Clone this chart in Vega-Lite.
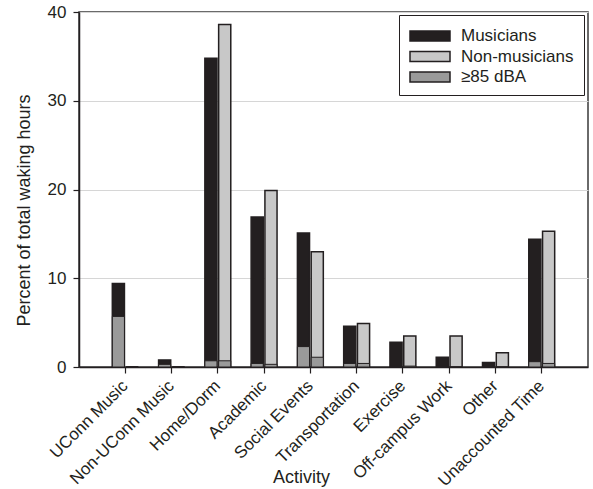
{
  "$schema": "https://vega.github.io/schema/vega-lite/v6.json",
  "width": 509,
  "height": 355,
  "autosize": {"type": "none"},
  "padding": {"left": 79, "top": 12, "right": 5, "bottom": 122},
  "background": "white",
  "config": {
    "font": "Liberation Sans",
    "view": {"stroke": "#3a3a3a", "strokeWidth": 1.5},
    "axis": {
      "labelFont": "Liberation Sans",
      "titleFont": "Liberation Sans",
      "labelColor": "#231f20",
      "titleColor": "#231f20",
      "domainColor": "#231f20",
      "domainWidth": 1.5,
      "tickColor": "#231f20",
      "tickWidth": 1.2,
      "tickSize": 6,
      "titleFontWeight": "normal"
    },
    "legend": {"labelFont": "Liberation Sans"}
  },
  "data": {
    "values": [
      {"activity": "UConn Music", "group": "Musicians", "total": 9.4, "loud": 5.7},
      {"activity": "UConn Music", "group": "Non-musicians", "total": 0, "loud": 0},
      {"activity": "Non-UConn Music", "group": "Musicians", "total": 0.8, "loud": 0.3},
      {"activity": "Non-UConn Music", "group": "Non-musicians", "total": 0, "loud": 0},
      {"activity": "Home/Dorm", "group": "Musicians", "total": 34.8, "loud": 0.7},
      {"activity": "Home/Dorm", "group": "Non-musicians", "total": 38.6, "loud": 0.7},
      {"activity": "Academic", "group": "Musicians", "total": 16.9, "loud": 0.4},
      {"activity": "Academic", "group": "Non-musicians", "total": 19.9, "loud": 0.3},
      {"activity": "Social Events", "group": "Musicians", "total": 15.1, "loud": 2.3},
      {"activity": "Social Events", "group": "Non-musicians", "total": 13.0, "loud": 1.1},
      {"activity": "Transportation", "group": "Musicians", "total": 4.6, "loud": 0.4},
      {"activity": "Transportation", "group": "Non-musicians", "total": 4.9, "loud": 0.4},
      {"activity": "Exercise", "group": "Musicians", "total": 2.8, "loud": 0},
      {"activity": "Exercise", "group": "Non-musicians", "total": 3.5, "loud": 0.1},
      {"activity": "Off-campus Work", "group": "Musicians", "total": 1.1, "loud": 0},
      {"activity": "Off-campus Work", "group": "Non-musicians", "total": 3.5, "loud": 0},
      {"activity": "Other", "group": "Musicians", "total": 0.5, "loud": 0},
      {"activity": "Other", "group": "Non-musicians", "total": 1.6, "loud": 0},
      {"activity": "Unaccounted Time", "group": "Musicians", "total": 14.4, "loud": 0.6},
      {"activity": "Unaccounted Time", "group": "Non-musicians", "total": 15.3, "loud": 0.4}
    ]
  },
  "encoding": {
    "x": {
      "field": "activity",
      "type": "nominal",
      "sort": null,
      "scale": {"paddingInner": 0.44, "paddingOuter": 0.72},
      "axis": {
        "title": "Activity",
        "titleFontSize": 18,
        "titleX": 222,
        "titleY": 110,
        "titleBaseline": "middle",
        "titleAlign": "center",
        "labelAngle": -45,
        "labelAlign": "right",
        "labelBaseline": "middle",
        "labelFontSize": 17,
        "labelPadding": 10,
        "grid": false
      }
    },
    "xOffset": {
      "field": "group",
      "type": "nominal",
      "scale": {"paddingInner": 0.12, "paddingOuter": 0}
    }
  },
  "layer": [
    {
      "mark": {"type": "bar", "stroke": "#231f20", "strokeWidth": 1.5},
      "encoding": {
        "y": {
          "field": "total",
          "type": "quantitative",
          "scale": {"domain": [0, 40], "nice": false},
          "axis": {
            "title": "Percent of total waking hours",
            "titleFontSize": 18,
            "titleX": -55,
            "titleY": 198,
            "titleAngle": -90,
            "titleBaseline": "middle",
            "titleAlign": "center",
            "values": [0, 10, 20, 30, 40],
            "labelFontSize": 17,
            "labelPadding": 7,
            "grid": true,
            "gridColor": "#d6d6d6",
            "gridWidth": 1.2
          }
        },
        "color": {
          "field": "group",
          "type": "nominal",
          "scale": {
            "domain": ["Musicians", "Non-musicians", "≥85 dBA"],
            "range": ["#231f20", "#c8c8c8", "#9a9a9a"]
          },
          "legend": {
            "title": null,
            "orient": "none",
            "legendX": 320,
            "legendY": 3,
            "padding": 10,
            "strokeColor": "#231f20",
            "fillColor": "white",
            "labelFontSize": 17,
            "labelColor": "#231f20",
            "labelOffset": 30,
            "rowPadding": 1.5,
            "symbolType": "M-1,-0.5H3V0.5H-1Z",
            "symbolSize": 400,
            "symbolStrokeColor": "#231f20",
            "symbolStrokeWidth": 1.5,
            "symbolOpacity": 1
          }
        }
      }
    },
    {
      "mark": {"type": "bar", "stroke": "#231f20", "strokeWidth": 1},
      "encoding": {
        "y": {"field": "loud", "type": "quantitative"},
        "color": {"datum": "≥85 dBA"}
      }
    }
  ]
}
